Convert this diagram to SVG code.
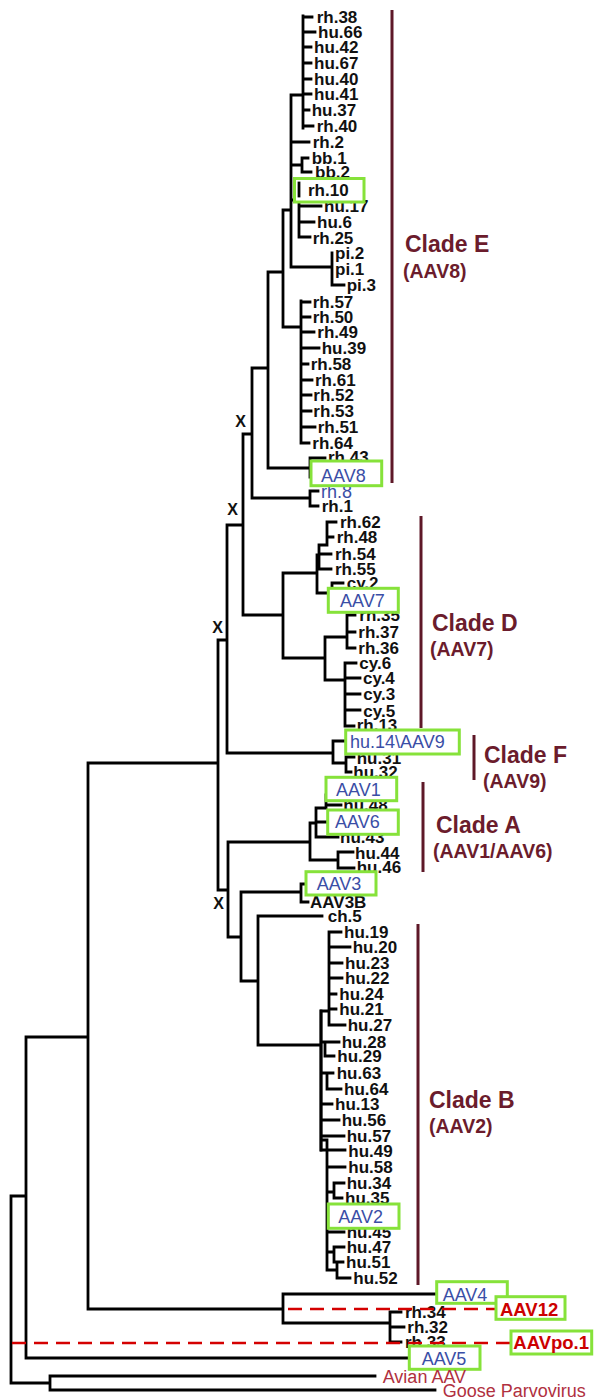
<svg xmlns="http://www.w3.org/2000/svg" width="595" height="1400" viewBox="0 0 595 1400">
<style>
text{font-family:"Liberation Sans",Arial,sans-serif}
.t{font-weight:bold;font-size:17px;fill:#111}
.b{font-size:18px;fill:#3a4ea6;font-weight:normal}
.box{fill:#fff;stroke:#86e23a;stroke-width:3}
.tree{fill:none;stroke:#000;stroke-width:2.8;stroke-linecap:square}
.bar{stroke:#5e1828;stroke-width:3}
.clade{font-weight:bold;font-size:23px;fill:#6b1c2c}
.sub{font-weight:bold;font-size:19.5px;fill:#6b1c2c}
.red{fill:#cc0000;font-weight:bold;font-size:18.5px}
.dash{stroke:#d40000;stroke-width:2.6;stroke-dasharray:14 8;fill:none}
.ol{fill:#b03040;font-size:18px}
.x{font-weight:bold;font-size:16px;text-anchor:middle;fill:#111}
</style>
<rect width="595" height="1400" fill="#fff"/>
<g id="connectors">
<path class="tree" d="M303 16V128M303 17H312M303 32H315M303 47H311M303 63H311M303 79H311M303 94H311M303 110H309M303 126H313
M291 95H303M291 95V267M291 142H309M291 165H302M302 158V172M302 158H308M302 172H311
M291 200H299M299 188V237M299 190H305M299 206H321M299 222H314M299 237H310
M291 267H332M332 253V285M332 285H344
M283 210V327M283 210H291M283 327H301
M301 301V443M301 302H310M301 317H310M301 332H314M301 348H319M301 364H308M301 380H312M301 395H311M301 411H311M301 427H315M301 443H309
M268 272V468M268 272H283M268 468H310M310 458V477M310 458H325M310 475H318
M252 368V498M252 368H268M252 498H310M310 491V506M310 491H318M310 506H318
M243 434V615M243 434H252M243 615H283
M283 573V658M283 573H317M283 658H325
M317 555V593M317 555H319M319 545V569M319 545H327M327 522V545M327 522H336M327 537H333M319 554H331M319 569H331
M317 593H332M332 583V600M332 583H343M332 600H338
M325 637V680M325 637H347M347 615V648M347 615H355M347 632H355M347 648H355
M325 680H345M345 663V726M345 663H356M345 678H360M345 694H360M345 710H360M345 726H354
M227 525V753M227 525H243M227 753H333
M333 741V763M333 741H346M333 763H346M346 757V772M346 757H354M346 772H351
M218 640V890M218 640H227M218 890H228M88 763H218
M228 842V937M228 842H310M310 823V860M310 823H316M316 808V837M316 808H326M326 795V805M326 795H332M326 805H341M316 822H333M316 837H338M310 860H338M338 852V868M338 852H353M338 868H354
M228 937H241M241 892V981M241 892H301M301 884V902M301 884H306M301 902H308
M241 981H258M258 916V1045M258 916H322M258 1045H321
M321 1011V1150M321 1011H329M329 932V1025M329 932H341M329 947H350M329 963H342M329 978H342M329 994H336M329 1009H336M329 1025H345
M321 1042H339M325 1042V1056M325 1056H334
M321 1073H333M327 1073V1089M327 1089H341M321 1104H332M321 1120H339M321 1136H344M321 1150H345
M321 1140H327M327 1140V1270M327 1167H345M327 1192H334M334 1183V1198M334 1183H344M334 1198H342M327 1216H335M327 1232H344M327 1252H334M334 1247V1262M334 1247H344M334 1262H343M327 1270H337M337 1262V1278M337 1278H350
M88 763V1309M26 1037H88M88 1309H283M283 1294V1323M283 1294H435M283 1323H390M390 1312V1342M390 1312H401M390 1327H404M390 1342H401
M26 1037V1358M26 1358H410M11 1196H26M11 1196V1383M11 1383H50M50 1376V1390M50 1376H375M50 1390H435"/>
<path class="tree" d="M321 1011V1150" stroke-width="4"/>
</g>
<g id="clade-bars">
<line class="bar" x1="392" y1="10" x2="392" y2="483"/>
<line class="bar" x1="421" y1="516" x2="421" y2="728"/>
<line class="bar" x1="474" y1="735" x2="474" y2="780"/>
<line class="bar" x1="423" y1="782" x2="423" y2="872"/>
<line class="bar" x1="418" y1="924" x2="418" y2="1285"/>
</g>
<g id="clade-E"><text class="clade" x="405" y="252">Clade E</text><text class="sub" x="403" y="278">(AAV8)</text></g>
<g id="clade-D"><text class="clade" x="432" y="631">Clade D</text><text class="sub" x="430" y="656">(AAV7)</text></g>
<g id="clade-F"><text class="clade" x="484" y="763">Clade F</text><text class="sub" x="483" y="788">(AAV9)</text></g>
<g id="clade-A"><text class="clade" x="436" y="833">Clade A</text><text class="sub" x="433" y="858">(AAV1/AAV6)</text></g>
<g id="clade-B"><text class="clade" x="429" y="1108">Clade B</text><text class="sub" x="429" y="1133">(AAV2)</text></g>
<g id="x-marks">
<text class="x" x="240.5" y="427">X</text>
<text class="x" x="232.5" y="515">X</text>
<text class="x" x="217.5" y="633">X</text>
<text class="x" x="218.5" y="909">X</text>
</g>
<g id="leaves" class="t">
<g id="n-rh38"><text x="316.7" y="23">rh.38</text></g>
<g id="n-hu66"><text x="318" y="38">hu.66</text></g>
<g id="n-hu42"><text x="314" y="53">hu.42</text></g>
<g id="n-hu67"><text x="314" y="69">hu.67</text></g>
<g id="n-hu40"><text x="314" y="85">hu.40</text></g>
<g id="n-hu41"><text x="314" y="100">hu.41</text></g>
<g id="n-hu37"><text x="311.7" y="116">hu.37</text></g>
<g id="n-rh40"><text x="316.7" y="132">rh.40</text></g>
<g id="n-rh2"><text x="312.7" y="148">rh.2</text></g>
<g id="n-bb1"><text x="311.7" y="163.7">bb.1</text></g>
<g id="n-bb2"><text x="315" y="178">bb.2</text></g>
<g id="n-hu17"><text x="324" y="212">hu.17</text></g>
<g id="n-hu6"><text x="317" y="227.7">hu.6</text></g>
<g id="n-rh25"><text x="312.7" y="243.7">rh.25</text></g>
<g id="n-pi2"><text x="335" y="259">pi.2</text></g>
<g id="n-pi1"><text x="335" y="275">pi.1</text></g>
<g id="n-pi3"><text x="346.7" y="291">pi.3</text></g>
<g id="n-rh57"><text x="312.7" y="307.7">rh.57</text></g>
<g id="n-rh50"><text x="312.7" y="322.7">rh.50</text></g>
<g id="n-rh49"><text x="317.3" y="338">rh.49</text></g>
<g id="n-hu39"><text x="321.7" y="354">hu.39</text></g>
<g id="n-rh58"><text x="310.7" y="370">rh.58</text></g>
<g id="n-rh61"><text x="315" y="386">rh.61</text></g>
<g id="n-rh52"><text x="313.3" y="401">rh.52</text></g>
<g id="n-rh53"><text x="313.3" y="416.7">rh.53</text></g>
<g id="n-rh51"><text x="317.7" y="433">rh.51</text></g>
<g id="n-rh64"><text x="312.3" y="448.7">rh.64</text></g>
<g id="n-rh43"><text x="328" y="463">rh.43</text></g>
<g id="n-rh8"><text class="b" x="321" y="498">rh.8</text></g>
<g id="n-rh1"><text x="321.7" y="512">rh.1</text></g>
<g id="n-rh62"><text x="340" y="527.7">rh.62</text></g>
<g id="n-rh48"><text x="336.7" y="543">rh.48</text></g>
<g id="n-rh54"><text x="335" y="560">rh.54</text></g>
<g id="n-rh55"><text x="335" y="575">rh.55</text></g>
<g id="n-cy2"><text x="346.7" y="589">cy.2</text></g>
<g id="n-rh35"><text x="359.3" y="621">rh.35</text></g>
<g id="n-rh37"><text x="358.3" y="637.7">rh.37</text></g>
<g id="n-rh36"><text x="358.3" y="653.7">rh.36</text></g>
<g id="n-cy6"><text x="359.3" y="669">cy.6</text></g>
<g id="n-cy4"><text x="363" y="684">cy.4</text></g>
<g id="n-cy3"><text x="363.3" y="700">cy.3</text></g>
<g id="n-cy5"><text x="363.3" y="716.7">cy.5</text></g>
<g id="n-rh13"><text x="356.7" y="731">rh.13</text></g>
<g id="n-hu31"><text x="356.7" y="763.5">hu.31</text></g>
<g id="n-hu32"><text x="353.3" y="777.7">hu.32</text></g>
<g id="n-hu48"><text x="343.3" y="811">hu.48</text></g>
<g id="n-hu43"><text x="340" y="842.7">hu.43</text></g>
<g id="n-hu44"><text x="355" y="858.7">hu.44</text></g>
<g id="n-hu46"><text x="356.7" y="872.7">hu.46</text></g>
<g id="n-AAV3B"><text x="310" y="907.7">AAV3B</text></g>
<g id="n-ch5"><text x="327.7" y="921.7">ch.5</text></g>
<g id="n-hu19"><text x="344" y="937.7">hu.19</text></g>
<g id="n-hu20"><text x="352.7" y="953.3">hu.20</text></g>
<g id="n-hu23"><text x="345" y="969.3">hu.23</text></g>
<g id="n-hu22"><text x="345" y="984.3">hu.22</text></g>
<g id="n-hu24"><text x="339.3" y="1000">hu.24</text></g>
<g id="n-hu21"><text x="339.3" y="1015.3">hu.21</text></g>
<g id="n-hu27"><text x="347.7" y="1031">hu.27</text></g>
<g id="n-hu28"><text x="341.7" y="1047.7">hu.28</text></g>
<g id="n-hu29"><text x="337.3" y="1062">hu.29</text></g>
<g id="n-hu63"><text x="336.7" y="1079.3">hu.63</text></g>
<g id="n-hu64"><text x="344" y="1095.3">hu.64</text></g>
<g id="n-hu13"><text x="335" y="1110">hu.13</text></g>
<g id="n-hu56"><text x="341.7" y="1126">hu.56</text></g>
<g id="n-hu57"><text x="346.7" y="1142">hu.57</text></g>
<g id="n-hu49"><text x="348.3" y="1156.7">hu.49</text></g>
<g id="n-hu58"><text x="348.3" y="1172.7">hu.58</text></g>
<g id="n-hu34"><text x="346.7" y="1189.3">hu.34</text></g>
<g id="n-hu35"><text x="345" y="1203.7">hu.35</text></g>
<g id="n-hu45"><text x="346.7" y="1237.7">hu.45</text></g>
<g id="n-hu47"><text x="346.7" y="1252.7">hu.47</text></g>
<g id="n-hu51"><text x="346" y="1267.7">hu.51</text></g>
<g id="n-hu52"><text x="353.3" y="1284">hu.52</text></g>
<g id="n-rh34"><text x="405" y="1318.3">rh.34</text></g>
<g id="n-rh32"><text x="407.3" y="1333.3">rh.32</text></g>
<g id="n-rh33"><text x="405" y="1347.7">rh.33</text></g>
</g>
<g id="n-rh10"><rect class="box" x="294.5" y="178.5" width="69.5" height="23.5"/><path class="tree" d="M299 183V196"/><text class="t" x="308" y="196">rh.10</text></g>
<g id="n-AAV8"><rect class="box" x="311" y="461" width="70.7" height="24.7"/><text class="b" x="321" y="481.5">AAV8</text></g>
<g id="n-AAV7"><rect class="box" x="328.3" y="588.3" width="70" height="24"/><text class="b" x="340" y="607">AAV7</text></g>
<g id="n-AAV9"><rect class="box" x="345.7" y="730" width="113.6" height="24"/><text class="b" x="350" y="748">hu.14\AAV9</text></g>
<g id="n-AAV1"><rect class="box" x="326" y="777.3" width="70.7" height="23.4"/><text class="b" x="336" y="795.5">AAV1</text></g>
<g id="n-AAV6"><rect class="box" x="327.7" y="810" width="70.6" height="24.3"/><text class="b" x="335" y="828">AAV6</text></g>
<g id="n-AAV3"><rect class="box" x="306" y="871.7" width="70" height="23.3"/><text class="b" x="316.7" y="889.8">AAV3</text></g>
<g id="n-AAV2"><rect class="box" x="328.3" y="1204" width="70.7" height="24.3"/><text class="b" x="338.3" y="1222.5">AAV2</text></g>
<g id="n-AAV4"><rect class="box" x="436.7" y="1281.7" width="70.6" height="21.6"/><text class="b" x="442.7" y="1300.8">AAV4</text></g>
<g id="n-AAV12"><line class="dash" x1="288" y1="1309" x2="496" y2="1309"/><rect class="box" x="496" y="1296.7" width="69" height="22.6"/><text class="red" x="500" y="1315.5">AAV12</text></g>
<g id="n-AAVpo1"><line class="dash" x1="12" y1="1343" x2="511" y2="1343"/><rect class="box" x="511" y="1331" width="80.7" height="23"/><text class="red" x="513.3" y="1349">AAVpo.1</text></g>
<g id="n-AAV5"><rect class="box" x="409.3" y="1346" width="70.7" height="23.3"/><text class="b" x="421.7" y="1364.8">AAV5</text></g>
<g id="n-avian"><text class="ol" x="382.7" y="1382.5">Avian AAV</text></g>
<g id="n-goose"><text class="ol" x="442.7" y="1396.5">Goose Parvovirus</text></g>
</svg>
